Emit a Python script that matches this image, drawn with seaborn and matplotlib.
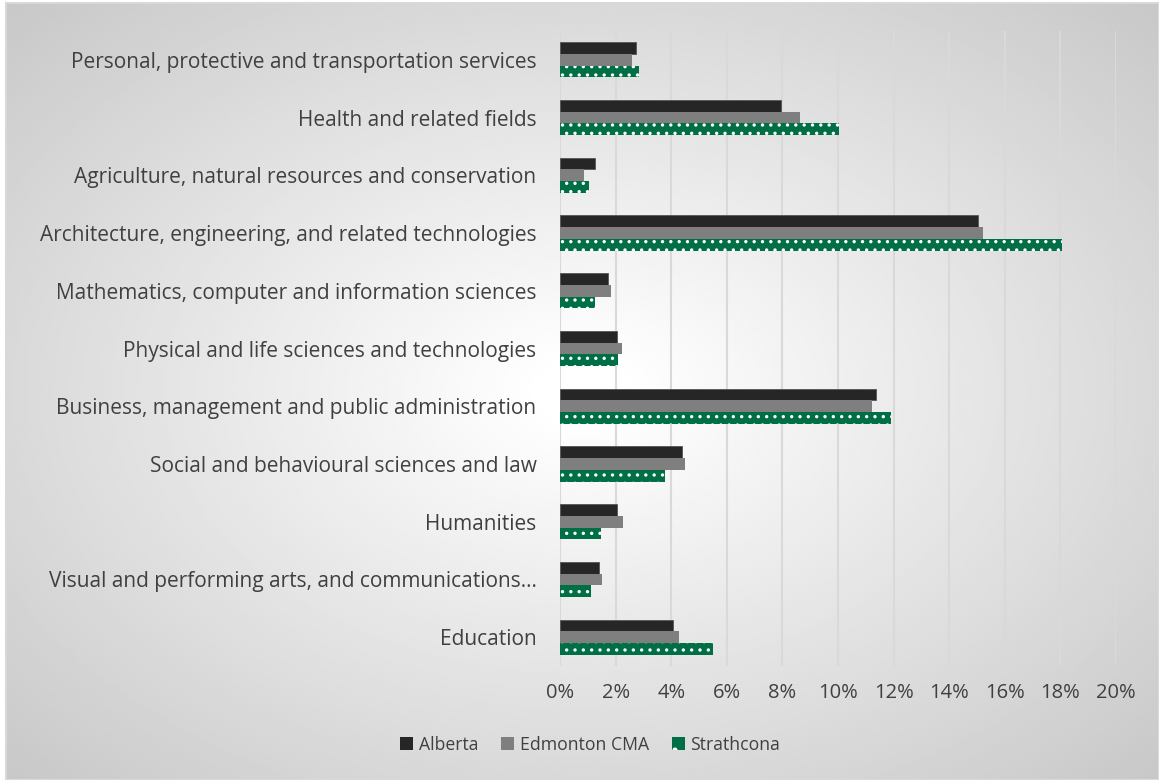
import numpy as np
import pandas as pd
import matplotlib
matplotlib.use("Agg")
import matplotlib.pyplot as plt
from matplotlib.patches import Rectangle, Patch
from matplotlib.ticker import FuncFormatter, MultipleLocator
import seaborn as sns

categories = [
    "Personal, protective and transportation services",
    "Health and related fields",
    "Agriculture, natural resources and conservation",
    "Architecture, engineering, and related technologies",
    "Mathematics, computer and information sciences",
    "Physical and life sciences and technologies",
    "Business, management and public administration",
    "Social and behavioural sciences and law",
    "Humanities",
    "Visual and performing arts, and communications\u2026",
    "Education",
]
series = ["Alberta", "Edmonton CMA", "Strathcona"]
alberta = [2.73, 7.95, 1.25, 15.05, 1.73, 2.05, 11.35, 4.38, 2.05, 1.40, 4.07]
edmonton = [2.60, 8.65, 0.87, 15.20, 1.84, 2.23, 11.24, 4.50, 2.27, 1.51, 4.29]
strathcona = [2.84, 10.03, 1.05, 18.07, 1.26, 2.09, 11.92, 3.78, 1.48, 1.12, 5.51]
colors = ["#262626", "#7f7f7f", "#006f46"]

df = pd.DataFrame({
    "category": categories * 3,
    "series": [series[0]] * 11 + [series[1]] * 11 + [series[2]] * 11,
    "value": alberta + edmonton + strathcona,
})

sns.set_theme(style="white")
plt.rcParams["font.family"] = ["Open Sans", "DejaVu Sans"]
plt.rcParams["hatch.linewidth"] = 1.2
plt.rcParams["hatch.color"] = "white"

W, H = 1159, 780
fig = plt.figure(figsize=(W / 100, H / 100), dpi=100)
fig.patch.set_facecolor("white")

# radial gradient background
bg = fig.add_axes([6 / W, 0, 1 - 6 / W, 1 - 3 / H], zorder=-10)
nx, ny = 400, 270
xs = np.linspace(0, 1, nx)
ys = np.linspace(0, 1, ny)
X, Y = np.meshgrid(xs, ys)
u = (X - 0.5) / 0.5
v = (Y - 0.5) / 0.5
r = np.sqrt(u ** 2 + v ** 2)
val = 255 - 41 * np.clip(r - 0.07, 0, None)
val = np.clip(val, 0, 255) / 255.0
bg.imshow(val, cmap="gray", vmin=0, vmax=1, aspect="auto",
          extent=[0, 1, 0, 1], interpolation="bilinear")
bg.set_xlim(0, 1)
bg.set_ylim(0, 1)
bg.axis("off")
bg.add_patch(Rectangle((0, 0), 1, 1, transform=bg.transAxes, fill=False,
                       edgecolor="#d9d9d9", linewidth=1.5, clip_on=False))

ax = fig.add_axes([560 / W, 1 - 666 / H, 556 / W, (666 - 31) / H])
ax.set_facecolor("none")
sns.barplot(data=df, y="category", x="value", hue="series", order=categories,
            hue_order=series, palette=colors, orient="h", width=0.61,
            ax=ax, legend=False, saturation=1, errorbar=None)

n = len(categories)
for i, patch in enumerate(ax.patches):
    s = i // n
    if s == 2:
        patch.set_hatch("..")
        patch.set_edgecolor("white")
        patch.set_linewidth(0)
    elif s == 0:
        patch.set_edgecolor("#555555")
        patch.set_linewidth(0.6)
    else:
        patch.set_linewidth(0)

ax.set_xlim(0, 20)
ax.xaxis.set_major_locator(MultipleLocator(2))
ax.xaxis.set_major_formatter(FuncFormatter(lambda x, p: f"{int(round(x))}%"))
ax.grid(axis="x", color="#d9d9d9", linewidth=1.5)
ax.grid(axis="y", visible=False)
ax.set_axisbelow(True)
for sp in ax.spines.values():
    sp.set_visible(False)
ax.set_xlabel("")
ax.set_ylabel("")
ax.tick_params(axis="x", length=0, pad=12, labelsize=14.5, labelcolor="#404040")
ax.tick_params(axis="y", length=0, pad=17, labelsize=15, labelcolor="#404040")

handles = [Patch(facecolor=colors[0], edgecolor="none"),
           Patch(facecolor=colors[1], edgecolor="none"),
           Patch(facecolor=colors[2], edgecolor="white", hatch=".", linewidth=0)]
fig.legend(handles, series, loc="center", bbox_to_anchor=(590 / W, 1 - 745 / H),
           ncol=3, frameon=False, fontsize=12.7, handlelength=0.75, handleheight=0.75,
           handletextpad=0.3, columnspacing=1.3, labelcolor="#404040")

fig.savefig("out.png", dpi=100)
